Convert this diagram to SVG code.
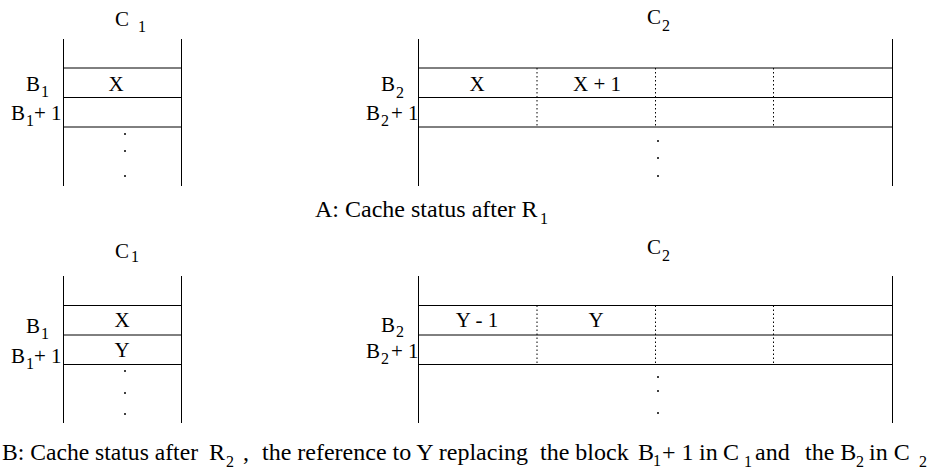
<svg xmlns="http://www.w3.org/2000/svg" width="932" height="475" viewBox="0 0 932 475">
<style>
text{font-family:"Liberation Serif","Times New Roman",serif;fill:#000}
.lb{font-size:21px}
.cap{font-size:24px}
.sb{font-size:16px}
.ln{stroke:#000;stroke-width:1;fill:none}
.dt{stroke:#000;stroke-width:1;stroke-dasharray:1.5 2.5;fill:none}
.dot{fill:#000}
</style>
<rect width="932" height="475" fill="#fff"/>
<g id="connectors">
<path class="ln" d="M63.5 39V186M181.5 39V186M63 68H182M63 97.5H182M63 127H182"/>
<path class="ln" d="M418.5 39V186M892.5 39V186M418 68H893M418 97.5H893M418 127H893"/>
<path class="dt" d="M537 68V127M655.5 68V127M773.5 68V127"/>
<path class="ln" d="M63.5 276V423M181.5 276V423M63 305.5H182M63 335H182M63 364.5H182"/>
<path class="ln" d="M418.5 276V423M892.5 276V423M418 305.5H893M418 335H893M418 364.5H893"/>
<path class="dt" d="M537 305.5V364.5M655.5 305.5V364.5M773.5 305.5V364.5"/>
</g>
<g id="top-C1">
<text class="lb" x="115" y="26">C</text><text class="sb" x="138" y="32">1</text>
<text class="lb" x="116" y="91" text-anchor="middle">X</text>
<text class="lb" x="26" y="91">B</text><text class="sb" x="41" y="97">1</text>
<text class="lb" x="11" y="120">B</text><text class="sb" x="26" y="126">1</text><text class="lb" x="34" y="120">+ 1</text>
<circle class="dot" cx="125" cy="134" r="1"/><circle class="dot" cx="125" cy="151" r="1"/><circle class="dot" cx="125" cy="176" r="1"/>
</g>
<g id="top-C2">
<text class="lb" x="647" y="24">C</text><text class="sb" x="662" y="31">2</text>
<text class="lb" x="477" y="91" text-anchor="middle">X</text>
<text class="lb" x="597" y="91" text-anchor="middle">X + 1</text>
<text class="lb" x="381" y="91">B</text><text class="sb" x="396" y="98">2</text>
<text class="lb" x="366" y="120">B</text><text class="sb" x="381" y="126">2</text><text class="lb" x="391" y="120">+ 1</text>
<circle class="dot" cx="658" cy="141" r="1"/><circle class="dot" cx="658" cy="158" r="1"/><circle class="dot" cx="658" cy="176" r="1"/>
</g>
<g id="caption-A">
<text class="cap" x="315" y="217">A: Cache status after R</text><text class="sb" x="540" y="224">1</text>
</g>
<g id="bottom-C1">
<text class="lb" x="115" y="258">C</text><text class="sb" x="131" y="262">1</text>
<text class="lb" x="122" y="327" text-anchor="middle">X</text>
<text class="lb" x="122" y="357" text-anchor="middle">Y</text>
<text class="lb" x="26" y="333">B</text><text class="sb" x="41" y="339">1</text>
<text class="lb" x="11" y="363">B</text><text class="sb" x="26" y="369">1</text><text class="lb" x="34" y="363">+ 1</text>
<circle class="dot" cx="125" cy="371" r="1"/><circle class="dot" cx="125" cy="393" r="1"/><circle class="dot" cx="125" cy="414" r="1"/>
</g>
<g id="bottom-C2">
<text class="lb" x="647" y="254">C</text><text class="sb" x="662" y="261">2</text>
<text class="lb" x="477" y="327" text-anchor="middle">Y - 1</text>
<text class="lb" x="596" y="327" text-anchor="middle">Y</text>
<text class="lb" x="381" y="332">B</text><text class="sb" x="396" y="337" font-size="15">2</text>
<text class="lb" x="366" y="358">B</text><text class="sb" x="381" y="364">2</text><text class="lb" x="391" y="358">+ 1</text>
<circle class="dot" cx="658" cy="377" r="1"/><circle class="dot" cx="658" cy="391" r="1"/><circle class="dot" cx="658" cy="413" r="1"/>
</g>
<g id="caption-B">
<text class="cap" x="2" y="460" textLength="196" lengthAdjust="spacingAndGlyphs">B: Cache status after</text>
<text class="cap" x="209" y="460">R</text><text class="sb" x="226" y="467">2</text>
<text class="cap" x="243" y="460">,</text>
<text class="cap" x="262" y="460">the reference to Y replacing</text>
<text class="cap" x="540" y="460">the block</text>
<text class="cap" x="638" y="460">B</text><text class="sb" x="653" y="466" font-size="15">1</text>
<text class="cap" x="662" y="460">+ 1</text>
<text class="cap" x="699" y="460">in</text>
<text class="cap" x="723" y="460">C</text><text class="sb" x="744" y="467">1</text>
<text class="cap" x="755" y="460">and</text>
<text class="cap" x="805" y="460">the B</text><text class="sb" x="856" y="467">2</text>
<text class="cap" x="869" y="460">in C</text><text class="sb" x="919" y="467">2</text>
</g>
</svg>
